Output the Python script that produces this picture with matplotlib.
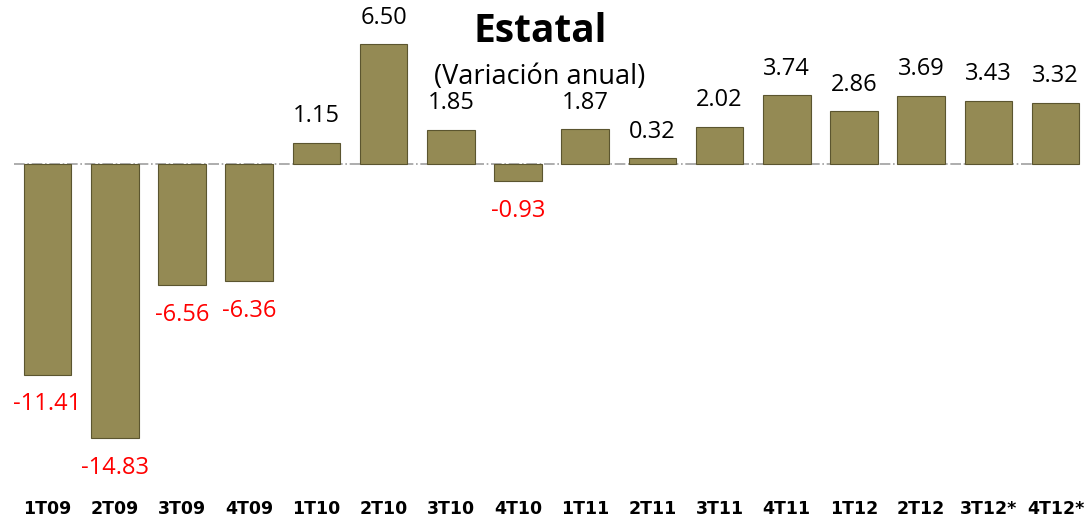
import numpy as np
import matplotlib.pyplot as plt

periodos = ['1T09', '2T09', '3T09', '4T09', '1T10', '2T10', '3T10', '4T10',
            '1T11', '2T11', '3T11', '4T11', '1T12', '2T12', '3T12*', '4T12*']
variacion = [-11.41, -14.83, -6.56, -6.36, 1.15, 6.50, 1.85, -0.93,
             1.87, 0.32, 2.02, 3.74, 2.86, 3.69, 3.43, 3.32]

fig = plt.figure(figsize=(10.86, 5.21), dpi=100)
# axes placed so the zero line and bar scale match the picture
ax = fig.add_axes([14/1086, 31/521, 1075.2/1086, 490/521])

x = np.arange(len(periodos))
ax.bar(x, variacion, width=0.71, color='#948a54', edgecolor='#5b552f', linewidth=0.8, zorder=2)
ax.plot([-0.5, 15.35], [0, 0], color='#a0a0a0', lw=1.2, ls='-.', zorder=1)

ax.set_xlim(-0.5, 15.5)
ax.set_ylim(-(490 - 164)/18.46, 164/18.46)

for xi, v in zip(x, variacion):
    if v >= 0:
        ax.annotate(f'{v:.2f}', (xi, v), xytext=(0, 19), textcoords='offset points',
                    ha='center', va='center', fontsize=17, family='Open Sans', color='black')
    else:
        ax.annotate(f'{v:.2f}', (xi, v), xytext=(0, -21.5), textcoords='offset points',
                    ha='center', va='center', fontsize=17, family='Open Sans', color='#ff0000')

ax.set_xticks(x)
ax.set_xticklabels(periodos, fontsize=12.5, fontweight='bold', family='Liberation Sans Narrow')
ax.tick_params(axis='x', length=0, pad=7)
ax.set_yticks([])
for s in ax.spines.values():
    s.set_visible(False)

fig.text(540/1086, 1 - 31/521, 'Estatal', ha='center', va='center', fontsize=28,
         fontweight='bold', family='Open Sans')
fig.text(540/1086, 1 - 77/521, '(Variación anual)', ha='center', va='center', fontsize=19.5,
         family='Open Sans')

fig.savefig('out.png', dpi=100)
